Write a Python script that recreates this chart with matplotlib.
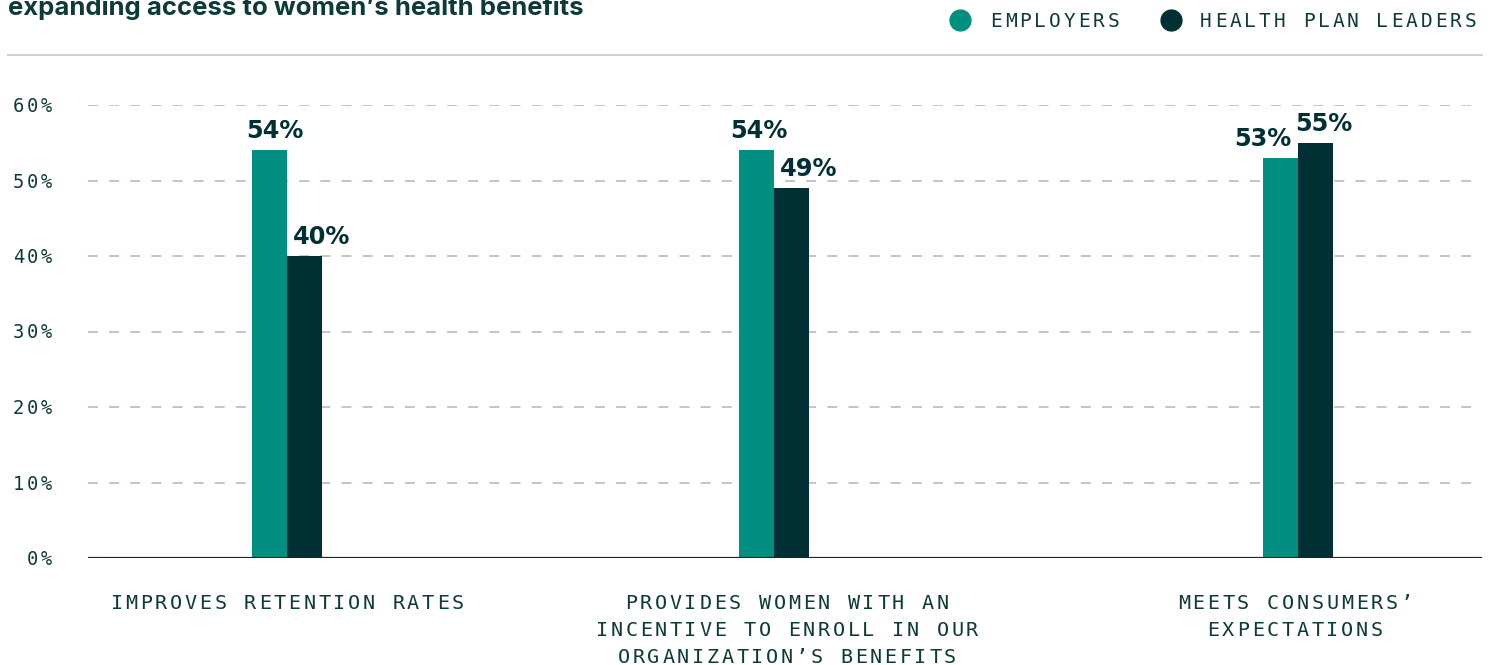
import matplotlib
matplotlib.use('Agg')
import matplotlib.pyplot as plt
import matplotlib.transforms as mtransforms
from matplotlib.lines import Line2D
import numpy as np

# data
categories = ['IMPROVES RETENTION RATES',
              'PROVIDES WOMEN WITH AN\nINCENTIVE TO ENROLL IN OUR\nORGANIZATION\u2019S BENEFITS',
              'MEETS CONSUMERS\u2019\nEXPECTATIONS']
employers = [54, 54, 53]
plan_leaders = [40, 49, 55]
series_names = ['EMPLOYERS', 'HEALTH PLAN LEADERS']
yticks = [0, 10, 20, 30, 40, 50, 60]
title = 'expanding access to women\u2019s health benefits'

TEAL = '#008f80'
DARK = '#013034'
TEXT = '#0f3a3a'
GRID = '#b4c4c4'

W, H, DPI = 1496, 665, 100
fig = plt.figure(figsize=(W / DPI, H / DPI), dpi=DPI)
ax = fig.add_axes([88 / W, 107 / H, (1482 - 88) / W, (558 - 105) / H])


def spaced(x, y, s, trans, size, track, ha='center', weight='normal',
           color=TEXT, lh=27, dx=0, dy=0):
    # monospace text with letter spacing, drawn one char at a time (px offsets)
    adv = 0.602 * size * DPI / 72 + track
    for j, line in enumerate(s.split('\n')):
        width = len(line) * adv - track
        if ha == 'center':
            x0 = -width / 2
        elif ha == 'right':
            x0 = -width
        else:
            x0 = 0
        for i, ch in enumerate(line):
            if ch == ' ':
                continue
            ox = dx + x0 + i * adv + (adv - track) / 2
            oy = dy - j * lh
            t = trans + mtransforms.ScaledTranslation(ox / DPI, oy / DPI, fig.dpi_scale_trans)
            ax.text(x, y, ch, transform=t, ha='center', va='baseline', fontsize=size,
                    family='DejaVu Sans Mono', fontweight=weight, color=color, clip_on=False)


x = np.array([0, 0.963, 2])  # group centres (middle group sits a bit left)
w = 0.069
ax.bar(x - w / 2, employers, w, color=TEAL, zorder=3)
ax.bar(x + w / 2, plan_leaders, w, color=DARK, zorder=3)

ax.set_xlim(-0.394, 2.364)
ax.set_ylim(0, 60)
ax.set_yticks(yticks)
ax.set_yticklabels([])
ax.set_xticks([])
ax.tick_params(length=0)
ax.yaxis.grid(True, color=GRID, lw=1.3, linestyle=(0, (5.5, 6.2)))
ax.set_axisbelow(True)
for sp in ax.spines.values():
    sp.set_visible(False)
ax.axhline(0, color=DARK, lw=2.3, zorder=4)

# y tick labels
ytrans = mtransforms.blended_transform_factory(ax.transAxes, ax.transData)
for v in yticks:
    spaced(0, v, f'{v}%', ytrans, 13.5, 2.7, ha='right', dx=-36, dy=-7)

# category labels
xtrans = mtransforms.blended_transform_factory(ax.transData, ax.transAxes)
label_dx = [0, 13, -3]
for xi, lab, ldx in zip(x, categories, label_dx):
    spaced(xi, 0, lab, xtrans, 14.5, 2.7, dy=-51, dx=ldx)

# value labels (px offsets from bar top centre)
teal_dx = [5, 2, -18]
dark_dx = [17, 17, 8]
for i in range(len(categories)):
    for xv, val, ddx in [(x[i] - w / 2, employers[i], teal_dx[i]),
                         (x[i] + w / 2, plan_leaders[i], dark_dx[i])]:
        ax.annotate(f'{val}%', (xv, val), xytext=(ddx * 0.72, 12 * 0.72),
                    textcoords='offset points', ha='center', va='baseline',
                    fontsize=17.3, fontweight='bold', family='DejaVu Sans', color=DARK)

# title (cut at top edge) and rule
fig.text(8 / W, 1 - 15 / H, title, fontsize=18.5, fontweight='bold',
         family='Inter', color=TEXT, va='baseline')
fig.add_artist(Line2D([8 / W, 1482 / W], [1 - 55 / H, 1 - 55 / H], color='#d0d0d0', lw=1.4))

# legend
ftrans = fig.transFigure
for (cx, tx), name, col in zip([(960, 990), (1171, 1200)], series_names, [TEAL, DARK]):
    fig.add_artist(Line2D([cx / W], [1 - 20 / H], marker='o', markersize=15, color=col,
                          linestyle='none'))
    spaced(tx / W, 1 - 27 / H, name, ftrans, 14, 3.0, ha='left')

fig.savefig('out.png', dpi=DPI)
